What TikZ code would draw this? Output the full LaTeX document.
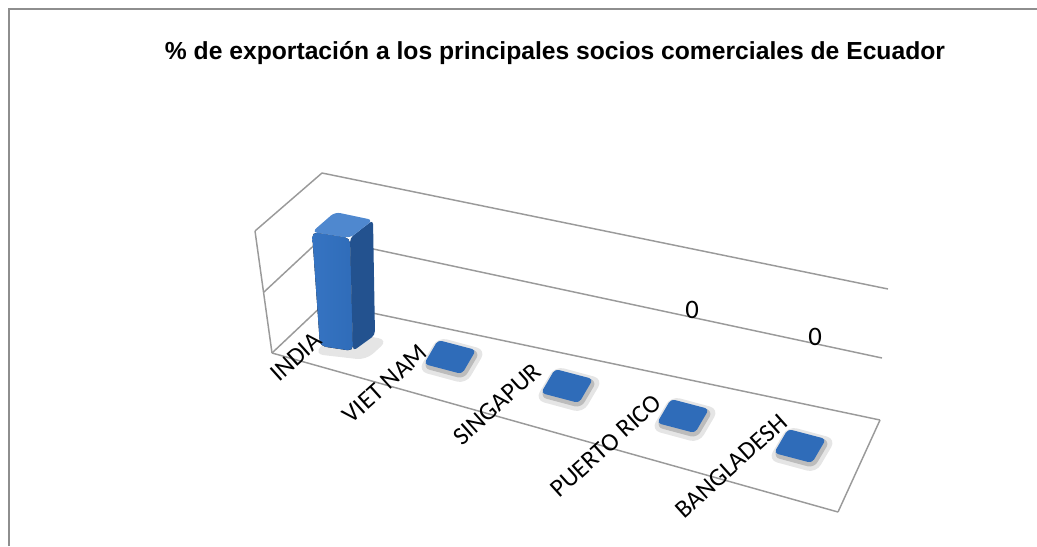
\documentclass[tikz,border=0pt]{standalone}
\usepackage{fontspec}
\setmainfont{Carlito}
\newfontfamily\titlefont{Liberation Sans}
\usetikzlibrary{positioning}

\definecolor{gridgray}{HTML}{9A9A9A}
\definecolor{framegray}{HTML}{8E8E8E}
\definecolor{barfront}{HTML}{2F6CB9}
\definecolor{barleft}{HTML}{3674C2}
\definecolor{barside}{HTML}{23528F}
\definecolor{bartop}{HTML}{4F88CF}

\begin{document}
\begin{tikzpicture}[x=0.75pt,y=-0.75pt,gridline/.style={draw=gridgray,line width=1.1pt},catlabel/.style={font=\fontsize{19}{19}\selectfont,rotate=42,inner sep=0pt},vallabel/.style={font=\fontsize{20}{20}\selectfont,inner sep=0pt},flatbar/.style={fill=barfront,rounded corners=3pt},glow/.style={fill=black,opacity=0.10,rounded corners=7pt},innerglow/.style={fill=black,opacity=0.18,rounded corners=5pt}]
	
	\useasboundingbox (0,0) rectangle (1037,546);
	\draw[framegray, line width=1.5pt] (9,546) -- (9,9) -- (1037,9);
	
	\node (title) at (555,53) {\titlefont\bfseries\fontsize{18.5}{18.5}\selectfont \% de exportación a los principales socios comerciales de Ecuador};
	
	% walls and floor
	\coordinate (w0) at (255,231);
	\coordinate (w1) at (264,292);
	\coordinate (w2) at (272,353);
	\coordinate (b0) at (322,173);
	\coordinate (b1) at (322,238);
	\coordinate (b2) at (325,303);
	\coordinate (e0) at (888,289);
	\coordinate (e1) at (882,358);
	\coordinate (e2) at (880,420);
	\coordinate (f2) at (838,512);
	
	\draw[gridline] (b0) to (e0);
	\draw[gridline] (b1) to (e1);
	\draw[gridline] (b2) to (e2);
	\draw[gridline] (w0) to (b0);
	\draw[gridline] (w1) to (b1);
	\draw[gridline] (w2) to (b2);
	\draw[gridline] (w0) to (w2);
	\draw[gridline] (w2) to (f2);
	\draw[gridline] (f2) to (e2);
	
	% INDIA
	\fill[glow] (314,354) -- (366,360) -- (388,340) -- (336,330) -- cycle;
	\fill[left color=barleft, right color=barfront, rounded corners=4pt] (312,232) -- (350,238) -- (353,351) -- (320,346) -- cycle;
	\fill[barside, rounded corners=3pt] (350,238) -- (373,220) -- (375,335) -- (353,351) -- cycle;
	\fill[bartop, rounded corners=4pt] (312,232) -- (335,212) -- (373,220) -- (350,238) -- cycle;
	
	% flat bars
	\coordinate (v) at (450,357);
	\coordinate (s) at (567,386);
	\coordinate (p) at (683,416);
	\coordinate (g) at (800,446);
	\fill[glow] (v) ++(-32,14) -- ++(48,13) -- ++(20,-34) -- ++(-48,-13) -- cycle;
	\fill[glow] (s) ++(-32,14) -- ++(48,13) -- ++(20,-34) -- ++(-48,-13) -- cycle;
	\fill[glow] (p) ++(-32,14) -- ++(48,13) -- ++(20,-34) -- ++(-48,-13) -- cycle;
	\fill[glow] (g) ++(-32,14) -- ++(48,13) -- ++(20,-34) -- ++(-48,-13) -- cycle;
	\fill[innerglow] (v) ++(-27,11) -- ++(41,11) -- ++(16,-27) -- ++(-41,-11) -- cycle;
	\fill[innerglow] (s) ++(-27,11) -- ++(41,11) -- ++(16,-27) -- ++(-41,-11) -- cycle;
	\fill[innerglow] (p) ++(-27,11) -- ++(41,11) -- ++(16,-27) -- ++(-41,-11) -- cycle;
	\fill[innerglow] (g) ++(-27,11) -- ++(41,11) -- ++(16,-27) -- ++(-41,-11) -- cycle;
	\fill[flatbar] (v) ++(-26,7) -- ++(38,10) -- ++(14,-24) -- ++(-38,-10) -- cycle;
	\fill[flatbar] (s) ++(-26,7) -- ++(38,10) -- ++(14,-24) -- ++(-38,-10) -- cycle;
	\fill[flatbar] (p) ++(-26,7) -- ++(38,10) -- ++(14,-24) -- ++(-38,-10) -- cycle;
	\fill[flatbar] (g) ++(-26,7) -- ++(38,10) -- ++(14,-24) -- ++(-38,-10) -- cycle;
	
	% labels
	\node [catlabel] (0) at (296,357) {INDIA};
	\node [catlabel] (1) at (385,384) {VIET NAM};
	\node [catlabel] (2) at (497,404) {SINGAPUR};
	\node [catlabel] (3) at (606,446) {PUERTO RICO};
	\node [catlabel] (4) at (731,466) {BANGLADESH};
	\node [vallabel] (5) at (692,310) {0};
	\node [vallabel] (6) at (815,337) {0};
\end{tikzpicture}
\end{document}
